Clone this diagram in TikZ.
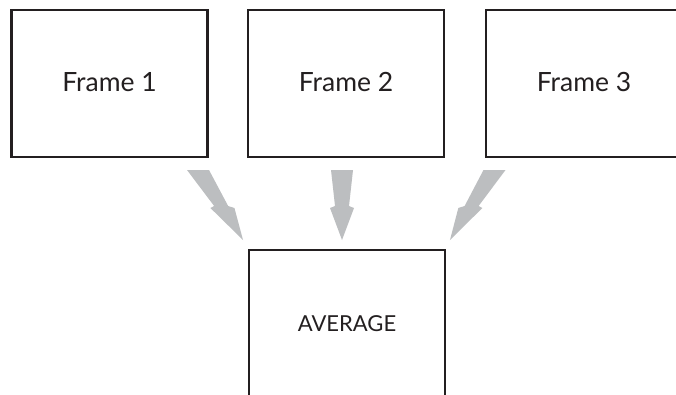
\documentclass[tikz,border=0pt]{standalone}
\usepackage{fontspec}
\setmainfont{Lato}
\definecolor{ink}{HTML}{231F20}
\definecolor{arrowgray}{HTML}{BCBEC0}
\begin{document}
\begin{tikzpicture}[x=1pt,y=-1pt,
  framebox/.style={draw=ink, line width=2.4pt, minimum width=196pt, minimum height=147pt,
    inner sep=0pt, text=ink, font=\fontsize{26.5}{30}\selectfont},
  avgbox/.style={framebox, font=\fontsize{22}{26}\selectfont},
  fatarrow/.style={fill=arrowgray, draw=none}]
\clip (0,0) rectangle (676,394);
\fill[white] (0,0) rectangle (676,394);
\node[framebox] (f1) at (109.5,83.5) {\raisebox{2.5pt}{Frame 1}};
\node[framebox] (f2) at (346,83.5) {\raisebox{2.5pt}{Frame 2}};
\node[framebox] (f3) at (584,83.5) {\raisebox{2.5pt}{Frame 3}};
\node[avgbox] (avg) at (347,323.5) {\raisebox{-3pt}{AVERAGE}};
\coordinate (a1) at (198,170);
\coordinate (a2) at (342,170);
\coordinate (a3) at (494.5,170);
\foreach \c/\s in {a1/-0.643, a2/0, a3/0.636}{
  \fill[fatarrow, shift={(\c)}, xslant=\s]
    (-11,0) -- (11,0) -- (7,36) -- (12,38) -- (0,70) -- (-12,38) -- (-7,36) -- cycle;
}
\end{tikzpicture}
\end{document}
